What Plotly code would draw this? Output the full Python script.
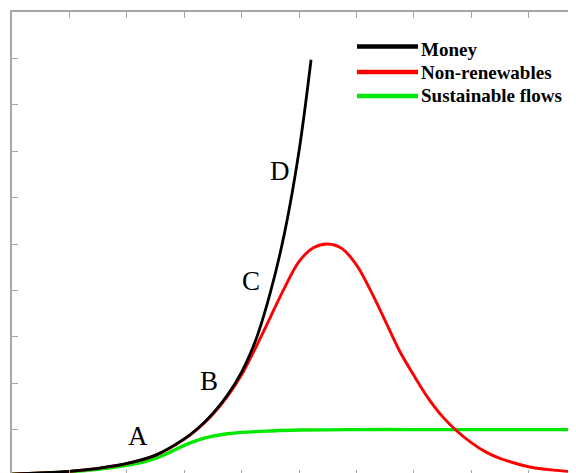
import plotly.graph_objects as go

# ---- data ----
money_x = [0.0, 0.5, 1.0, 1.5, 2.0, 2.5, 3.0, 3.25, 3.5, 3.75, 4.0, 4.25, 4.5, 4.75, 5.0, 5.21]
money_y = [0.04, 0.065, 0.10, 0.165, 0.27, 0.45, 0.80, 1.04, 1.35, 1.74, 2.24, 2.94, 3.95, 5.25, 7.0, 8.97]

nonren_x = [0.0, 0.5, 1.0, 1.5, 2.0, 2.5, 3.0, 3.25, 3.5, 3.75, 4.0, 4.25, 4.5, 4.75, 5.0, 5.25, 5.5, 5.75,
            6.0, 6.25, 6.5, 6.75, 7.0, 7.25, 7.5, 7.75, 8.0, 8.25, 8.5, 8.75, 9.0, 9.25, 9.5, 9.75, 9.97]
nonren_y = [0.04, 0.065, 0.10, 0.165, 0.268, 0.445, 0.79, 1.03, 1.33, 1.71, 2.18, 2.78, 3.42, 4.06, 4.62, 4.92, 5.0, 4.90,
            4.55, 3.99, 3.35, 2.70, 2.17, 1.68, 1.28, 0.97, 0.72, 0.52, 0.38, 0.28, 0.20, 0.15, 0.12, 0.095, 0.085]

sust_x = [0.0, 0.5, 1.0, 1.5, 2.0, 2.25, 2.5, 2.75, 3.0, 3.25, 3.5, 3.75, 4.0, 4.5, 5.0, 6.0, 7.0, 8.0, 9.0, 9.97]
sust_y = [0.04, 0.058, 0.092, 0.145, 0.23, 0.29, 0.38, 0.51, 0.66, 0.78, 0.86, 0.91, 0.94, 0.97, 0.99, 1.0, 1.0, 1.0, 1.0, 1.0]

tick_vals = [1, 2, 3, 4, 5, 6, 7, 8, 9]

point_labels = ["A", "B", "C", "D"]
label_x = [2.195, 3.43, 4.16, 4.67]
label_y = [0.87, 2.05, 4.21, 6.58]

legend_names = ["Money", "Non-renewables", "Sustainable flows"]
colors = {"Money": "#000000", "Non-renewables": "#ff0000", "Sustainable flows": "#00e800"}

# ---- figure ----
fig = go.Figure()
fig.add_trace(go.Scatter(x=sust_x, y=sust_y, mode="lines", line=dict(color=colors["Sustainable flows"], width=3.4, shape="spline"),
                         showlegend=False, hoverinfo="skip"))
fig.add_trace(go.Scatter(x=nonren_x, y=nonren_y, mode="lines", line=dict(color=colors["Non-renewables"], width=2.9, shape="spline"),
                         showlegend=False, hoverinfo="skip"))
fig.add_trace(go.Scatter(x=money_x, y=money_y, mode="lines", line=dict(color=colors["Money"], width=2.8, shape="spline"),
                         showlegend=False, hoverinfo="skip"))
# invisible trace to anchor the top axis
fig.add_trace(go.Scatter(x=[0], y=[0], xaxis="x2", mode="markers", marker=dict(opacity=0), showlegend=False, hoverinfo="skip"))

for t, lx, ly in zip(point_labels, label_x, label_y):
    fig.add_annotation(x=lx, y=ly, text=t, showarrow=False, xanchor="center", yanchor="middle",
                       font=dict(family="Liberation Serif", size=27, color="#000000"))

# custom legend (paper coords; page pixels mapped onto the plot area)
W, H, L, T = 572.0, 464.0, 12.0, 12.0
def px(xp):
    return (xp - L) / W
def py(yp):
    return 1 - (yp - T) / H

line_y = [46.5, 72.0, 96.0]
text_y = [49.0, 72.5, 96.0]
for name, ly, ty in zip(legend_names, line_y, text_y):
    fig.add_shape(type="line", xref="paper", yref="paper", x0=px(357), x1=px(418), y0=py(ly), y1=py(ly),
                  line=dict(color=colors[name], width=4.5))
    fig.add_annotation(xref="paper", yref="paper", x=px(419), y=py(ty), text="<b>%s</b>" % name, showarrow=False,
                       xanchor="left", yanchor="middle", font=dict(family="Liberation Serif", size=19, color="#000000"))

axis_grey = "#a6a6a6"
fig.update_layout(
    width=576, height=473,
    margin=dict(l=4, r=0, t=4, b=5),
    paper_bgcolor="white", plot_bgcolor="white",
    xaxis=dict(range=[0, 9.965], tickvals=tick_vals, showticklabels=False, ticks="inside", ticklen=6,
               tickcolor=axis_grey, tickwidth=1.2, showline=False, showgrid=False, zeroline=False),
    xaxis2=dict(overlaying="x", side="top", matches="x", range=[0, 9.965], tickvals=tick_vals, showticklabels=False,
                ticks="inside", ticklen=6, tickcolor=axis_grey, tickwidth=1.2, showline=True, linecolor=axis_grey,
                linewidth=1.5, showgrid=False, zeroline=False),
    yaxis=dict(range=[0, 10], tickvals=tick_vals, showticklabels=False, ticks="inside", ticklen=6,
               tickcolor=axis_grey, tickwidth=1.2, showline=True, linecolor=axis_grey, linewidth=1.5,
               showgrid=False, zeroline=False),
)

fig.write_html("out.html")
